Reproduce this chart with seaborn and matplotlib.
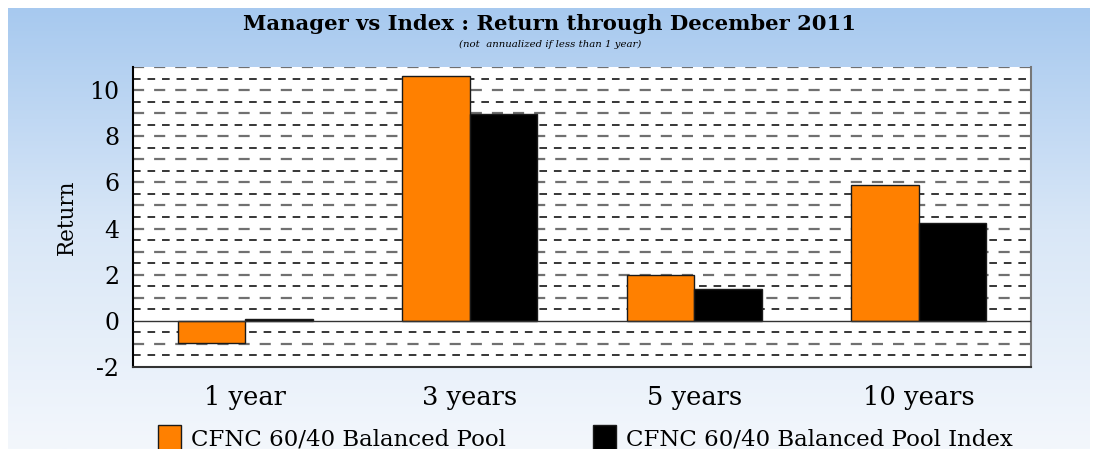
import numpy as np
import pandas as pd
import matplotlib
matplotlib.use("Agg")
import matplotlib.pyplot as plt
import seaborn as sns
from matplotlib.colors import LinearSegmentedColormap

categories = ["1 year", "3 years", "5 years", "10 years"]
series_names = ["CFNC 60/40 Balanced Pool", "CFNC 60/40 Balanced Pool Index"]
manager_vals = [-0.95, 10.6, 2.0, 5.9]
index_vals = [0.1, 8.95, 1.39, 4.25]
colors = ["#ff8000", "#000000"]
yticks = [-2, 0, 2, 4, 6, 8, 10]

df = pd.DataFrame({
    "Period": categories * 2,
    "Series": [series_names[0]] * 4 + [series_names[1]] * 4,
    "Return": manager_vals + index_vals,
})

sns.set_style("white")
plt.rcParams["font.family"] = ["DejaVu Serif"]
plt.rcParams["text.color"] = "black"
plt.rcParams["axes.labelcolor"] = "black"
plt.rcParams["xtick.color"] = "black"
plt.rcParams["ytick.color"] = "black"
plt.rcParams["axes.unicode_minus"] = False

W, H = 1094, 449
fig = plt.figure(figsize=(W / 100, H / 100), dpi=100)
fig.patch.set_facecolor("white")

# gradient background
bg = fig.add_axes([8 / W, 0, 1 - 12 / W, 1 - 8 / H])
grad = np.linspace(0, 1, 256).reshape(-1, 1)
cmap = LinearSegmentedColormap.from_list("bg", ["#a7c9ef", "#d9e7f7", "#f3f7fc"])
bg.imshow(grad, aspect="auto", cmap=cmap, extent=[0, 1, 0, 1], origin="upper")
bg.set_axis_off()

ax = fig.add_axes([133 / W, 1 - 367 / H, (1031 - 133) / W, (367 - 67) / H])
ax.set_facecolor("white")

sns.barplot(data=df, x="Period", y="Return", hue="Series", palette=colors,
            width=0.6, ax=ax, edgecolor="#1a1a1a", linewidth=1.0, saturation=1,
            errorbar=None, legend=True, zorder=3)

ax.set_ylim(-2, 11)
ax.set_xlim(-0.5, 3.5)

# dashed grid lines
for v in np.arange(-1.5, 11.01, 0.5):
    if abs(v) < 1e-9:
        continue
    if abs(v - round(v)) < 1e-9:
        ax.axhline(v, color="#707070", lw=1.6, dashes=(5, 4.5), zorder=1)
    else:
        ax.axhline(v, color="#000000", lw=1.1, dashes=(5, 4.5), zorder=1)
ax.axhline(0, color="#333333", lw=1.0, zorder=4)

ax.set_yticks(yticks)
ax.set_yticks(np.arange(-2, 11.01, 0.5), minor=True)
ax.tick_params(axis="y", which="major", length=8, width=1, color="#333333",
               labelsize=17, direction="out", pad=2)
ax.tick_params(axis="y", which="minor", length=6, width=1, color="#333333", direction="out")
ax.tick_params(axis="x", length=7, width=1, color="#666666", labelsize=18.5, direction="out", pad=6)
ax.set_xlabel("")
ax.set_ylabel("Return", fontsize=15.5, labelpad=8)

ax.spines["top"].set_visible(False)
ax.spines["left"].set_color("black")
ax.spines["left"].set_linewidth(1.5)
ax.spines["bottom"].set_color("#333333")
ax.spines["bottom"].set_linewidth(1.5)
ax.spines["right"].set_color("#777777")
ax.spines["right"].set_linewidth(1.5)

leg = ax.legend(loc="center left", bbox_to_anchor=(137 / W, 1 - 438 / H),
                bbox_transform=fig.transFigure, ncol=2, frameon=False,
                fontsize=16.5, handlelength=1.0, handleheight=1.3,
                columnspacing=3.8, handletextpad=0.45)

fig.text(0.5025, 1 - 24 / H, "Manager vs Index : Return through December 2011",
         ha="center", va="center", fontsize=15.2, fontweight="bold")
fig.text(0.5025, 1 - 44 / H, "(not  annualized if less than 1 year)",
         ha="center", va="center", fontsize=7.3, style="italic")

fig.savefig("out.png", dpi=100)
